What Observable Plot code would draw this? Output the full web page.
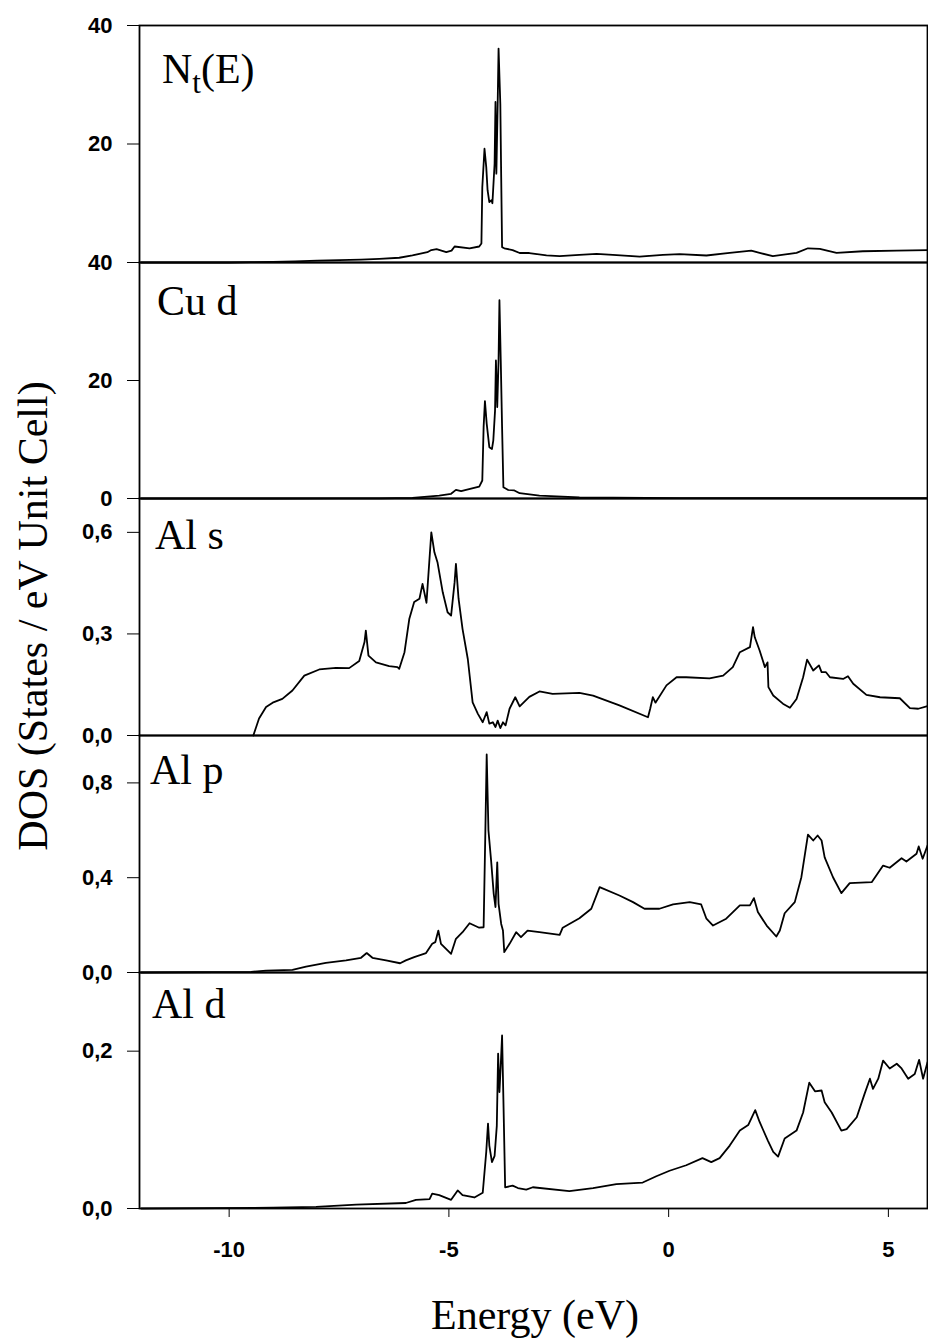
<!DOCTYPE html>
<html><head><meta charset="utf-8">
<script src="https://cdn.jsdelivr.net/npm/d3@7"></script>
<script src="https://cdn.jsdelivr.net/npm/@observablehq/plot@0.6"></script>
<style>
body{margin:0;background:#fff;}
#wrap{position:relative;width:928px;height:1338px;overflow:hidden;background:#fff;}
.panel{position:absolute;left:0;}
.lbl{position:absolute;font-family:"Liberation Serif","Times New Roman",serif;font-size:42px;color:#000;line-height:42px;white-space:nowrap;}
</style></head><body><div id="wrap"></div>
<script>
// ---- data: [energy (eV), DOS] ----
const totalDos = [[-12,0],[-10,0],[-9.5,0.05],[-9.0,0.1],[-8.5,0.2],[-8.0,0.3],[-7.5,0.4],[-7.0,0.5],[-6.58,0.62],[-6.13,0.8],[-5.83,1.2],[-5.49,1.74],[-5.40,2.1],[-5.28,2.25],[-5.06,1.74],[-4.94,2.0],[-4.87,2.7],[-4.53,2.4],[-4.31,2.7],[-4.26,3.2],[-4.24,12.7],[-4.19,19.2],[-4.15,16.1],[-4.12,12.2],[-4.08,10.2],[-4.03,10.5],[-4.01,10.0],[-3.96,16.7],[-3.94,27.1],[-3.92,15.0],[-3.89,26.8],[-3.87,36.1],[-3.83,26.8],[-3.81,14.4],[-3.79,2.6],[-3.74,2.4],[-3.55,2.1],[-3.39,1.6],[-3.17,1.6],[-2.78,1.2],[-2.48,1.06],[-2.03,1.3],[-1.64,1.47],[-1.27,1.3],[-0.66,1.0],[-0.13,1.3],[0.25,1.4],[0.86,1.18],[1.39,1.63],[1.88,2.0],[2.07,1.63],[2.37,1.06],[2.91,1.63],[3.17,2.4],[3.44,2.3],[3.82,1.63],[4.42,1.9],[5.19,2.0],[5.89,2.1]];
const cuD = [[-12,0],[-9,0],[-7.5,0.02],[-6.58,0.03],[-5.83,0.1],[-5.22,0.5],[-4.95,0.8],[-4.84,1.47],[-4.72,1.24],[-4.61,1.47],[-4.31,2.0],[-4.24,3.05],[-4.21,12.1],[-4.18,16.5],[-4.14,12.7],[-4.08,8.7],[-4.02,8.4],[-3.99,9.8],[-3.95,14.9],[-3.93,23.4],[-3.90,15.5],[-3.87,23.4],[-3.85,33.6],[-3.82,23.4],[-3.79,12.1],[-3.76,1.9],[-3.66,1.47],[-3.51,1.36],[-3.39,0.9],[-2.94,0.5],[-2.03,0.2],[0.25,0.05],[5.89,0.05]];
const alS = [[-9.45,0],[-9.32,0.05],[-9.16,0.084],[-9.01,0.097],[-8.79,0.108],[-8.56,0.133],[-8.29,0.177],[-7.95,0.195],[-7.57,0.2],[-7.27,0.199],[-7.04,0.22],[-6.92,0.276],[-6.89,0.31],[-6.83,0.236],[-6.66,0.216],[-6.36,0.205],[-6.17,0.202],[-6.13,0.197],[-6.01,0.246],[-5.90,0.345],[-5.79,0.394],[-5.67,0.404],[-5.60,0.448],[-5.51,0.392],[-5.40,0.60],[-5.33,0.541],[-5.26,0.512],[-5.14,0.423],[-5.03,0.364],[-4.95,0.354],[-4.87,0.453],[-4.84,0.507],[-4.78,0.404],[-4.69,0.315],[-4.57,0.226],[-4.46,0.098],[-4.34,0.064],[-4.23,0.039],[-4.14,0.069],[-4.08,0.035],[-4.00,0.039],[-3.94,0.025],[-3.89,0.044],[-3.83,0.022],[-3.77,0.039],[-3.71,0.03],[-3.62,0.079],[-3.49,0.113],[-3.39,0.086],[-3.17,0.114],[-2.94,0.13],[-2.64,0.123],[-2.03,0.126],[-1.72,0.118],[-1.12,0.089],[-0.47,0.054],[-0.42,0.079],[-0.36,0.113],[-0.30,0.097],[-0.05,0.148],[0.18,0.172],[0.40,0.172],[0.93,0.169],[1.24,0.177],[1.46,0.202],[1.62,0.246],[1.85,0.261],[1.92,0.32],[1.96,0.29],[2.07,0.251],[2.19,0.202],[2.25,0.216],[2.27,0.143],[2.38,0.118],[2.60,0.094],[2.76,0.082],[2.91,0.108],[3.06,0.172],[3.15,0.224],[3.29,0.192],[3.42,0.207],[3.48,0.187],[3.58,0.187],[3.67,0.172],[3.97,0.167],[4.08,0.175],[4.20,0.153],[4.50,0.12],[4.81,0.113],[5.26,0.11],[5.49,0.081],[5.68,0.079],[5.89,0.087]];
const alP = [[-12,0],[-9.5,0.003],[-9.16,0.008],[-8.56,0.011],[-8.25,0.025],[-7.80,0.041],[-7.34,0.051],[-7.00,0.062],[-6.87,0.082],[-6.74,0.062],[-6.43,0.051],[-6.11,0.039],[-5.98,0.051],[-5.79,0.065],[-5.52,0.082],[-5.38,0.121],[-5.31,0.128],[-5.24,0.177],[-5.18,0.121],[-4.95,0.079],[-4.84,0.142],[-4.69,0.17],[-4.53,0.208],[-4.31,0.189],[-4.21,0.191],[-4.17,0.599],[-4.14,0.92],[-4.10,0.599],[-4.04,0.473],[-3.98,0.332],[-3.94,0.276],[-3.90,0.465],[-3.87,0.29],[-3.81,0.205],[-3.77,0.177],[-3.74,0.086],[-3.62,0.121],[-3.47,0.17],[-3.36,0.149],[-3.21,0.177],[-2.94,0.17],[-2.48,0.159],[-2.41,0.189],[-2.03,0.229],[-1.76,0.269],[-1.57,0.36],[-1.12,0.325],[-0.81,0.297],[-0.55,0.269],[-0.21,0.269],[0.10,0.287],[0.48,0.297],[0.74,0.287],[0.86,0.227],[1.01,0.198],[1.31,0.227],[1.62,0.283],[1.85,0.283],[1.94,0.314],[2.03,0.255],[2.23,0.198],[2.45,0.152],[2.53,0.177],[2.64,0.25],[2.87,0.297],[3.02,0.402],[3.17,0.582],[3.29,0.557],[3.39,0.578],[3.48,0.557],[3.55,0.486],[3.74,0.402],[3.93,0.335],[4.12,0.377],[4.62,0.381],[4.88,0.451],[5.03,0.442],[5.30,0.482],[5.41,0.468],[5.64,0.501],[5.69,0.532],[5.78,0.48],[5.89,0.536]];
const alD = [[-12,0],[-9,0.001],[-8.02,0.002],[-7.11,0.005],[-5.98,0.007],[-5.75,0.011],[-5.44,0.012],[-5.38,0.019],[-5.22,0.017],[-4.95,0.011],[-4.80,0.023],[-4.69,0.017],[-4.42,0.014],[-4.23,0.02],[-4.15,0.072],[-4.11,0.108],[-4.08,0.08],[-4.02,0.059],[-3.96,0.067],[-3.91,0.105],[-3.88,0.197],[-3.85,0.148],[-3.82,0.182],[-3.79,0.22],[-3.76,0.139],[-3.72,0.027],[-3.55,0.029],[-3.43,0.026],[-3.24,0.024],[-3.09,0.027],[-2.26,0.022],[-1.72,0.026],[-1.19,0.031],[-0.59,0.033],[-0.28,0.041],[0.02,0.048],[0.40,0.055],[0.77,0.064],[0.97,0.059],[1.16,0.064],[1.39,0.08],[1.62,0.099],[1.81,0.106],[1.97,0.125],[2.07,0.11],[2.26,0.086],[2.38,0.072],[2.49,0.066],[2.64,0.089],[2.91,0.099],[3.06,0.122],[3.20,0.16],[3.33,0.149],[3.48,0.15],[3.55,0.135],[3.71,0.122],[3.93,0.099],[4.05,0.101],[4.28,0.116],[4.46,0.146],[4.58,0.165],[4.65,0.152],[4.77,0.165],[4.88,0.188],[5.03,0.178],[5.19,0.184],[5.30,0.178],[5.45,0.165],[5.60,0.171],[5.70,0.189],[5.79,0.165],[5.89,0.186]];

const panelNames = ["N_t(E)", "Cu d", "Al s", "Al p", "Al d"];
const panelSeries = [totalDos, cuD, alS, alP, alD];
const yMax = [40, 40, 0.7, 1.0, 0.3];
const yTicks = [[20, 40], [0, 20, 40], [0, 0.3, 0.6], [0, 0.4, 0.8], [0, 0.2]];
const xTicks = [-10, -5, 0, 5];
const xDomain = [-12.04, 5.89];
const yLabel = "DOS (States / eV Unit Cell)";
const xLabel = "Energy (eV)";

// ---- layout ----
const wrap = document.getElementById("wrap");
const panelTop = [25, 262, 498, 735, 972];
const panelBottom = [262, 498, 735, 972, 1208];
const pad = 12;
const labelPos = [[162, 82], [157, 314], [155, 548], [150, 783], [152, 1017]];

const fmtY = (max) => (d) => max >= 10 ? String(d) : d3.format(".1f")(d).replace(".", ",");

panelSeries.forEach((series, i) => {
  const last = i === panelSeries.length - 1;
  const h = panelBottom[i] - panelTop[i];
  const mb = last ? 70 : pad;
  const chart = Plot.plot({
    width: 928,
    height: h + pad + mb,
    marginLeft: 139,
    marginRight: 1,
    marginTop: pad,
    marginBottom: mb,
    style: {background: "transparent", overflow: "visible", fontFamily: "'Liberation Sans', Arial, sans-serif", fontSize: "22px", fontWeight: "bold", color: "#000"},
    x: {domain: xDomain, axis: last ? "bottom" : null, ticks: xTicks, tickSize: 9, tickPadding: 24,
        tickFormat: d => d < 0 ? "-" + Math.abs(d) : String(d), label: null},
    y: {domain: [0, yMax[i]], ticks: yTicks[i], tickSize: 12, tickPadding: 15, tickFormat: fmtY(yMax[i]), label: null},
    marks: [
      Plot.frame({stroke: "#000", strokeWidth: 1.8}),
      Plot.line(series, {x: d => d[0], y: d => d[1], stroke: "#000", strokeWidth: 1.8, curve: "linear"})
    ]
  });
  chart.classList.add("panel");
  chart.style.top = (panelTop[i] - pad) + "px";
  chart.style.position = "absolute";
  chart.style.left = "0px";
  wrap.appendChild(chart);

  const lab = document.createElement("div");
  lab.className = "lbl";
  if (panelNames[i] === "N_t(E)") {
    lab.innerHTML = 'N<span style="font-size:31px;position:relative;top:10px">t</span>(E)';
  } else {
    lab.textContent = panelNames[i];
  }
  lab.style.left = labelPos[i][0] + "px";
  lab.style.top = (labelPos[i][1] - 34) + "px";
  wrap.appendChild(lab);
});

const yl = document.createElement("div");
yl.className = "lbl";
yl.textContent = yLabel;
yl.style.left = "33px";
yl.style.top = "616px";
yl.style.transform = "translate(-50%,-50%) rotate(-90deg)";
wrap.appendChild(yl);

const xl = document.createElement("div");
xl.className = "lbl";
xl.textContent = xLabel;
xl.style.left = "535px";
xl.style.top = (1328 - 34) + "px";
xl.style.transform = "translateX(-50%)";
wrap.appendChild(xl);
</script></body></html>
